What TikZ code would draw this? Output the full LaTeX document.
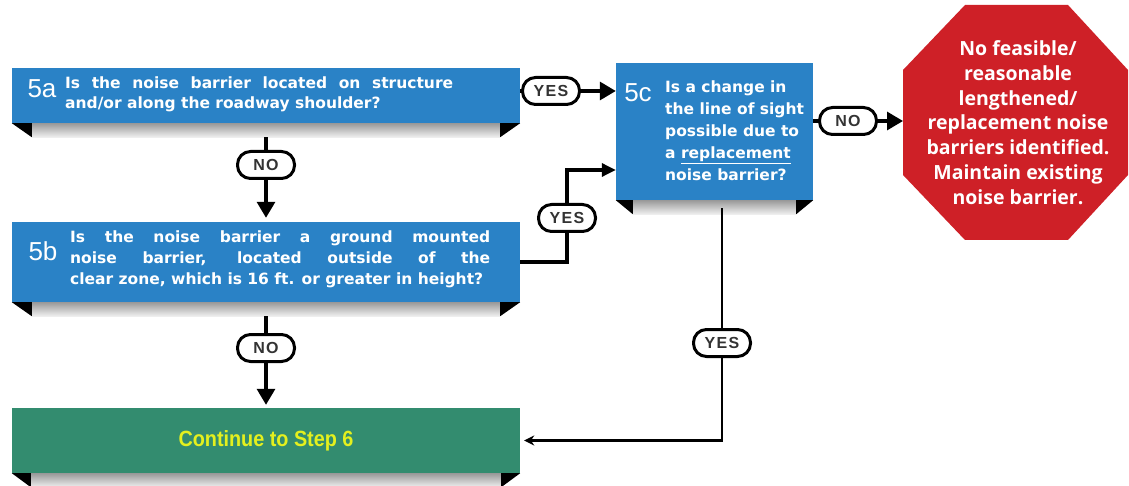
\documentclass[tikz,border=0pt]{standalone}
\usepackage{fontspec}
\usepackage{graphicx}
\usetikzlibrary{arrows.meta,calc}
\newfontfamily\qfont{DejaVu Sans}
\newfontfamily\lfont{Liberation Sans}
\newfontfamily\yfont{Liberation Sans}[LetterSpace=8]
\newfontfamily\ofont{Open Sans}
\definecolor{boxblue}{HTML}{2A82C6}
\definecolor{boxgreen}{HTML}{338C6F}
\definecolor{stopred}{HTML}{CE2027}
\definecolor{txtyellow}{HTML}{E4F01E}
\definecolor{ovaltext}{HTML}{333333}
\tikzset{
  qbox/.style={fill=boxblue, inner sep=0pt},
  gbox/.style={fill=boxgreen, inner sep=0pt, text=txtyellow,
    font=\lfont\bfseries\fontsize{22}{22}\selectfont},
  numlbl/.style={text=white, font=\lfont\fontsize{26}{26}\selectfont, inner sep=0pt},
  qtext/.style={text=white, font=\qfont\bfseries\fontsize{15.5}{20}\selectfont,
    inner sep=0pt, align=justify},
  ctext/.style={text=white, font=\qfont\bfseries\fontsize{15.5}{22}\selectfont,
    inner sep=0pt, align=left},
  octtext/.style={text=white, font=\ofont\bfseries\fontsize{19.5}{24.8}\selectfont,
    inner sep=0pt, align=center},
  oval/.style={draw=black, line width=3pt, fill=white, rounded corners=13pt,
    minimum width=57pt, minimum height=27pt, inner sep=0pt, text=ovaltext,
    font=\yfont\bfseries\fontsize{16}{16}\selectfont},
  conn/.style={line width=3.2pt, draw=black},
  bigarrow/.style={conn, -{Triangle[length=16pt,width=18pt]}},
  midarrow/.style={conn, -{Triangle[length=14pt,width=13pt]}},
  thinconn/.style={line width=2.8pt, draw=black},
  smallarrow/.style={thinconn, -{Stealth[length=10pt,width=10pt]}},
}
\newcommand\boxshadow[2]{% node, triangle width
  \shade[top color=gray!80, bottom color=gray!12]
    ([xshift=#2]#1.south west) rectangle ([xshift=-#2,yshift=-14pt]#1.south east);
  \fill[black] (#1.south west) -- ([xshift=#2]#1.south west)
    -- ([xshift=#2,yshift=-14pt]#1.south west) -- cycle;
  \fill[black] (#1.south east) -- ([xshift=-#2]#1.south east)
    -- ([xshift=-#2,yshift=-14pt]#1.south east) -- cycle;
}
\begin{document}
\begin{tikzpicture}[x=1pt,y=-1pt]
\useasboundingbox (0,0) rectangle (1129,486);

% boxes
\node[qbox, minimum width=508pt, minimum height=55pt] (a) at (266,95.5) {};
\node[qbox, minimum width=508pt, minimum height=80pt] (b) at (266,262) {};
\node[qbox, minimum width=197pt, minimum height=137pt] (c) at (714.5,131.5) {};
\node[gbox, minimum width=508pt, minimum height=65pt] (g) at (266,440.5)
  {\scalebox{0.9}[1]{Continue to Step 6}};

% shadows
\boxshadow{a}{20pt}
\boxshadow{b}{20pt}
\boxshadow{c}{17pt}
\boxshadow{g}{19pt}

% texts
\node[numlbl] (al) at (42,88.5) {5a};
\node[qtext, text width=388pt, anchor=west] (at) at (65,94.5)
  {Is the noise barrier located on structure\linebreak and/or along the roadway shoulder?};
\node[numlbl] (bl) at (43,251) {5b};
\node[qtext, text width=420pt, anchor=west, font=\qfont\bfseries\fontsize{15.5}{21}\selectfont] (bt) at (70,259)
  {Is the noise barrier a ground mounted\linebreak noise barrier, located outside of the\linebreak clear zone, which is 16 ft. or greater in height?};
\node[numlbl] (cl) at (638,93) {5c};
\node[ctext, anchor=west] (ct) at (665,131)
  {Is a change in\\the line of sight\\possible due to\\a \underline{replacement}\\noise barrier?};

% stop octagon
\fill[stopred] (965,5) -- (1068,5) -- (1128,70) -- (1128,175) -- (1068,240)
  -- (965,240) -- (903,175) -- (903,70) -- cycle;
\coordinate (octW) at (903,121);
\node[octtext] (ot) at (1018,122.5)
  {No feasible/\\reasonable\\lengthened/\\replacement noise\\barriers identified.\\Maintain existing\\noise barrier.};

% ovals
\node[oval] (y1) at (551,91) {YES};
\node[oval] (n1) at (266,165) {NO};
\node[oval] (y2) at (567,218) {YES};
\node[oval] (n2) at (266,348) {NO};
\node[oval] (y3) at (722,343) {YES};
\node[oval] (n3) at (848,121) {NO};

% connectors
\draw[conn] (a.east |- y1) -- (y1.west);
\draw[bigarrow] (y1.east) -- (c.west |- y1);

\draw[conn] ([yshift=-14pt]a.south) -- (n1.north);
\draw[bigarrow, shorten >=4pt] (n1.south) -- (b.north);

\draw[conn] (b.east) -- (b.east -| y2) -- (y2.south);
\draw[midarrow] (y2.north) |- ([yshift=-38.5pt]c.west);

\draw[conn] ([yshift=-14pt]b.south) -- (n2.north);
\draw[bigarrow, shorten >=3pt] (n2.south) -- (g.north);

\coordinate (cbot) at ([yshift=-8pt]c.south);
\draw[thinconn] (y3 |- cbot) -- (y3.north);
\draw[smallarrow, shorten >=4pt] (y3.south) |- (g.east);

\draw[conn] (c.east |- n3) -- (n3.west);
\draw[bigarrow] (n3.east) -- (octW);
\end{tikzpicture}
\end{document}
